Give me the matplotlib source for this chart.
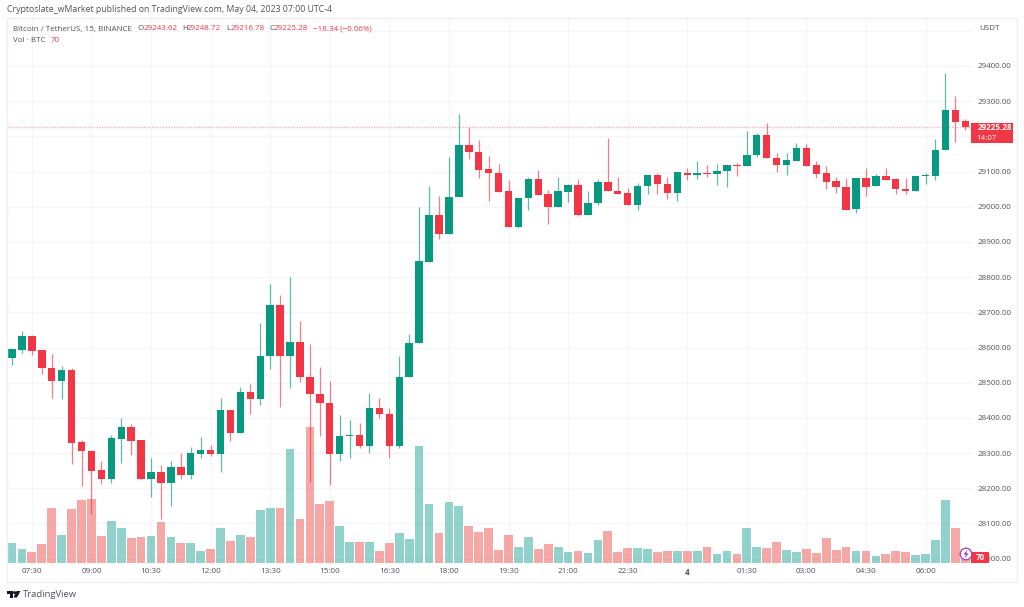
import matplotlib
matplotlib.use("Agg")
import matplotlib.pyplot as plt
from matplotlib.patches import Rectangle, Circle, Polygon

plt.rcParams['font.family'] = ['Open Sans', 'DejaVu Sans']

opens = [28571,28592,28632,28592,28543,28506,28535,28331,28306,28251,28226,28340,28373,28336,28227,28247,28214,28260,28237,28298,28309,28298,28422,28358,28475,28454,28576,28722,28575,28615,28516,28467,28443,28298,28349,28351,28320,28428,28412,28320,28515,28612,28843,28977,28922,29027,29175,29157,29107,29097,29044,28943,29024,29079,29035,28998,29042,29062,28977,29010,29071,29046,29039,29006,29058,29091,29065,29040,29097,29091,29097,29093,29102,29120,29115,29146,29203,29139,29119,29131,29166,29118,29095,29072,29057,28994,29081,29058,29088,29079,29051,29046,29087,29088,29160,29276,29243.62]
closes = [28595,28632,28590,28542,28506,28535,28328,28305,28250,28226,28342,28373,28334,28227,28247,28214,28260,28237,28300,28309,28298,28422,28358,28475,28454,28576,28722,28575,28615,28516,28467,28443,28298,28349,28351,28320,28428,28412,28320,28517,28614,28845,28977,28922,29028,29175,29157,29105,29095,29042,28943,29026,29079,29034,28998,29044,29062,28977,29012,29071,29044,29037,29006,29059,29091,29064,29040,29098,29091,29097,29093,29102,29120,29115,29147,29203,29138,29119,29132,29166,29117,29094,29071,29055,28992,29081,29057,29088,29077,29050,29046,29088,29091,29161,29276,29242,29225.28]
highs = [28595,28646,28637,28592,28582,28548,28542,28336,28306,28277,28351,28399,28382,28336,28285,28266,28277,28299,28318,28345,28324,28456,28422,28488,28495,28671,28780,28748,28799,28675,28610,28546,28506,28407,28395,28385,28470,28457,28429,28576,28639,29000,29058,29031,29142,29265,29226,29190,29144,29122,29076,29026,29085,29104,29048,29084,29065,29078,29046,29078,29195,29085,29053,29068,29091,29097,29085,29098,29109,29130,29120,29121,29120,29124,29215,29211,29237,29152,29154,29181,29178,29130,29116,29084,29082,29081,29111,29092,29109,29081,29082,29088,29097,29192,29379,29315,29248.72]
lows = [28550,28585,28580,28525,28457,28453,28269,28206,28127,28212,28216,28271,28294,28227,28176,28113,28150,28226,28227,28286,28293,28247,28335,28358,28411,28436,28540,28432,28486,28503,28219,28349,28209,28278,28285,28315,28301,28401,28285,28315,28515,28612,28843,28907,28922,29027,29137,29081,29016,29042,28943,28941,28991,29034,28951,28998,29013,28975,28977,29004,29044,29037,29006,28991,29036,29037,29022,29016,29076,29079,29085,29063,29057,29087,29115,29140,29138,29099,29090,29131,29117,29081,29051,29038,28992,28983,29031,29058,29077,29037,29036,29046,29065,29076,29160,29184,29216.78]
volumes = [304,213,167,289,836,426,826,963,973,416,644,532,380,395,416,634,395,309,309,193,218,537,345,426,406,811,847,847,1734,679,2069,897,943,563,330,319,319,193,309,466,365,1785,897,466,928,877,573,477,532,203,426,254,395,223,299,243,172,193,162,350,487,172,233,233,223,172,183,193,193,193,248,147,183,147,537,254,233,330,203,177,223,157,380,203,243,193,193,117,137,193,172,127,137,360,963,537,70]

x_tick_pos = [2,8,14,20,26,32,38,44,50,56,62,68,74,80,86,92]
x_tick_labels = ['07:30','09:00','10:30','12:00','13:30','15:00','16:30','18:00','19:30','21:00','22:30','4','01:30','03:00','04:30','06:00']
price_ticks = list(range(28000, 29501, 100))
hidden_price_labels = [29200, 29500]
last_price = 29225.28

W, H = 1024, 607
UP, DOWN = '#089981', '#F23645'
VUP, VDOWN = '#26A69A', '#EF5350'
GRID = '#F5F6F9'
TXT = '#50535E'
bars = list(range(len(opens)))

fig = plt.figure(figsize=(W/100, H/100), dpi=100, facecolor='white')

def rect(x0, y0, x1, y1):
    return [x0/W, 1-y1/H, (x1-x0)/W, (y1-y0)/H]

pane = rect(7, 18, 973, 565)
ax = fig.add_axes(pane)
ax_vol = fig.add_axes(pane, sharex=ax)
ax_c = fig.add_axes(pane, sharex=ax, sharey=ax)
for a in (ax_vol, ax_c):
    a.patch.set_visible(False)
    a.axis('off')

ax.set_xlim((7-12)/9.93, (973-12)/9.93)
ax.set_ylim(27982, 29536.4)
ax_vol.set_ylim(-26, 8289)

ax.set_xticks(x_tick_pos)
ax.set_xticklabels(x_tick_labels, fontsize=5.9, color=TXT)
for t, s in zip(ax.get_xticklabels(), x_tick_labels):
    if s == '4':
        t.set_fontweight('bold')
ax.yaxis.tick_right()
ax.set_yticks(price_ticks)
ax.set_yticklabels([f'{p}.00' if p not in hidden_price_labels else '' for p in price_ticks],
                   fontsize=5.8, color=TXT)
ax.tick_params(length=0, axis='x', pad=2.2)
ax.tick_params(length=0, axis='y', pad=3)
ax.grid(True, color=GRID, lw=1.0)
ax.set_axisbelow(True)
for s in ax.spines.values():
    s.set_visible(False)

# volume
vcol = [VUP if c >= o else VDOWN for o, c in zip(opens, closes)]
ax_vol.bar(bars, volumes, width=0.88, color=vcol, alpha=0.5, linewidth=0)

# candles
ccol = [UP if c >= o else DOWN for o, c in zip(opens, closes)]
ax_c.vlines(bars, lows, highs, colors=ccol, linewidth=0.9, alpha=0.65, zorder=2)
ax_c.bar(bars, [max(abs(c-o), 3) for o, c in zip(opens, closes)],
         bottom=[min(o, c) for o, c in zip(opens, closes)],
         width=0.75, color=ccol, linewidth=0, zorder=3)
ax_c.axhline(last_price, xmin=0, xmax=1, color='#F9B4BA', lw=1.0, ls=(0, (1, 1)), zorder=1)

# page furniture in pixel space
ov = fig.add_axes([0, 0, 1, 1], zorder=10)
ov.set_xlim(0, W)
ov.set_ylim(H, 0)
ov.axis('off')
ov.patch.set_visible(False)
ov.add_patch(Rectangle((7, 18), 1009.5, 564, fill=False, ec='#EDEFF5', lw=1))

def txt(x, y, s, size=5.8, color=TXT, **kw):
    kw.setdefault('va', 'center')
    return ov.text(x, y, s, fontsize=size, color=color, **kw)

txt(7, 10, 'Cryptoslate_wMarket published on TradingView.com, May 04, 2023 07:00 UTC-4', size=6.3)
txt(13, 29, 'Bitcoin / TetherUS, 15, BINANCE')
for x, s, col in [(138, 'O', TXT), (144, '29243.62', DOWN), (182, 'H', TXT), (187, '29248.72', DOWN),
                  (226, 'L', TXT), (231, '29216.78', DOWN), (269, 'C', TXT), (274, '29225.28', DOWN),
                  (313, '\u221218.34 (\u22120.06%)', DOWN)]:
    txt(x, 29, s, color=col)
txt(13, 41, 'Vol \u00b7 BTC')
txt(51, 41, '70', color=DOWN)
txt(979, 28, 'USDT')

# last-price badge
ov.add_patch(Rectangle((971, 123), 42, 20, fc=DOWN, ec='none'))
txt(1012, 128, '29225.28', color='white', ha='right', fontweight='bold')
txt(976, 138, '14:07', color='white')

# volume badge and lightning mark
ov.add_patch(Rectangle((971, 552), 18, 11, fc=DOWN, ec='none'))
txt(980, 557.5, '70', color='white', ha='center', fontweight='bold')
ov.add_patch(Circle((966, 554), 5.8, fc='white', ec='#AB47BC', lw=1))
ov.add_patch(Polygon([(967.5, 549.5), (963.5, 554.5), (966, 554.5), (964.5, 558.5), (968.5, 553.5), (966, 553.5)],
                     fc='#9C27B0', ec='none'))

# TradingView logo
ov.add_patch(Polygon([(7, 591), (13, 591), (13, 597.5), (10, 597.5), (10, 594), (7, 594)], fc='#131722', ec='none'))
ov.add_patch(Circle((14.6, 592.6), 1.5, fc='#131722', ec='none'))
ov.add_patch(Polygon([(16.5, 591), (20.5, 591), (17, 597.5), (13.5, 597.5)], fc='#131722', ec='none'))
txt(23, 594.5, 'TradingView', size=6.8, color='#50535E')

fig.savefig('out.png', dpi=100)
